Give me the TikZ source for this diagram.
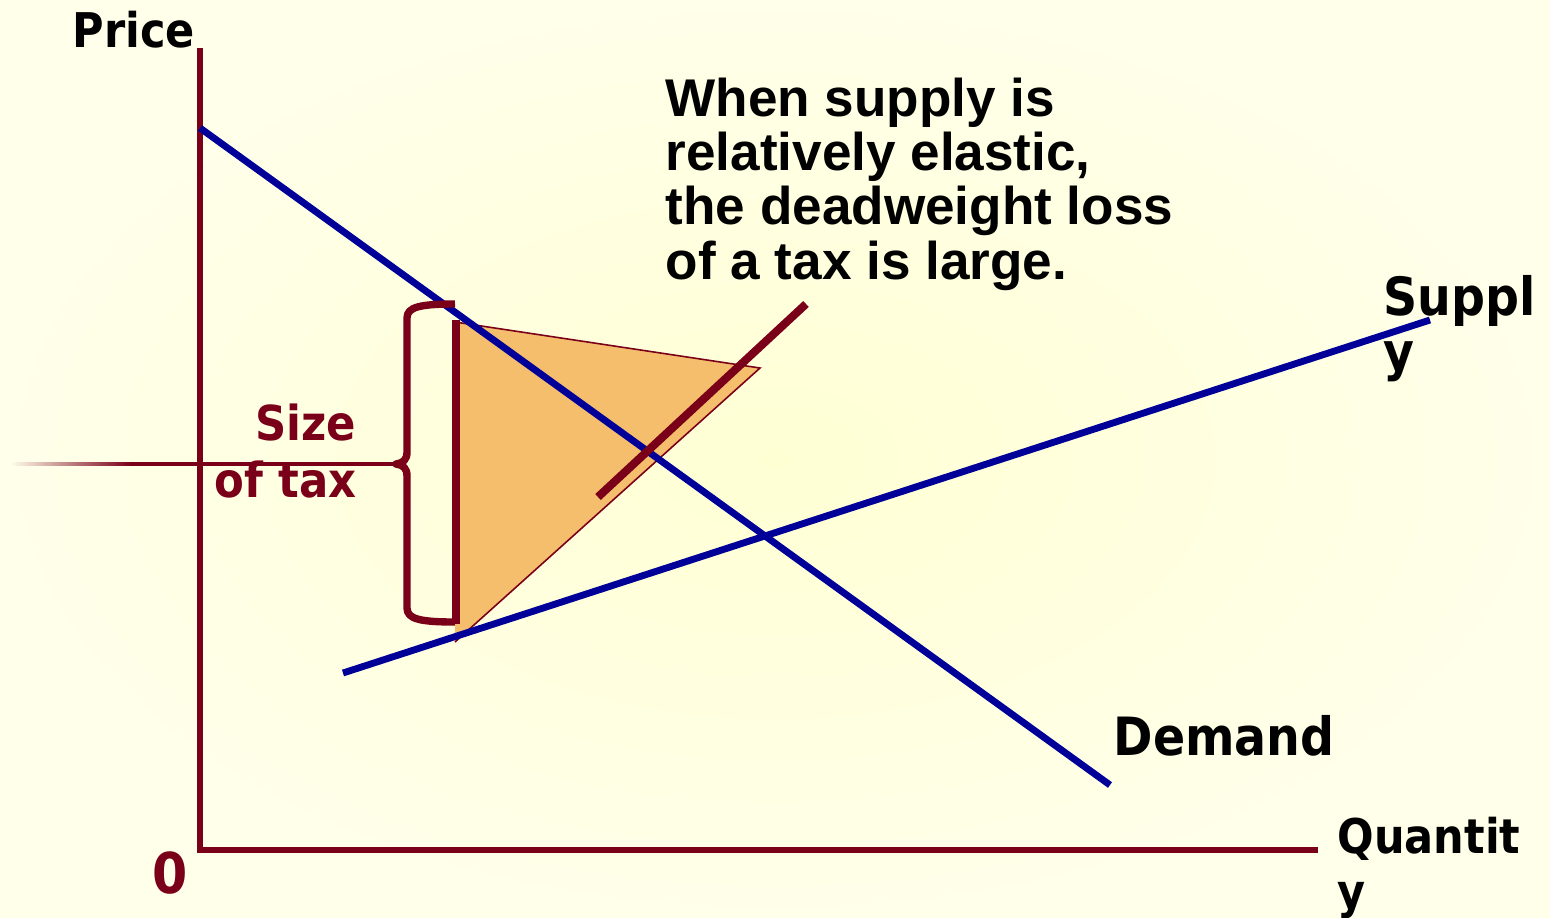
\documentclass[tikz,border=0pt]{standalone}
\usepackage{fontspec}
\setmainfont{Liberation Sans}
\newfontfamily\tahoma{DejaVu Sans Condensed}
\usetikzlibrary{calc}
\definecolor{axisred}{RGB}{122,0,25}
\definecolor{curveblue}{RGB}{0,0,153}
\definecolor{dwlfill}{RGB}{244,190,108}
\definecolor{bgyellow}{RGB}{255,255,212}
\definecolor{bglight}{RGB}{255,255,234}
\tikzset{
  axisln/.style={line width=1.6pt,axisred},
  curve/.style={line width=1.95pt,curveblue},
  taxln/.style={line width=2.3pt,axisred},
  brc/.style={line width=2.1pt,axisred,line join=round},
  dwledge/.style={line width=0.45pt,axisred},
  lbl/.style={font=\tahoma\bfseries\fontsize{13.6}{15.6}\selectfont,inner sep=0pt,align=left,anchor=base west},
  biglbl/.style={lbl,font=\tahoma\bfseries\fontsize{15}{15.6}\selectfont},
  redlbl/.style={lbl,text=axisred},
  note/.style={font=\bfseries\fontsize{15.1}{15.4}\selectfont,inner sep=0pt,align=left,anchor=base west},
}

\begin{document}
\begin{tikzpicture}[x=0.01cm,y=-0.01cm]
  \shade[inner color=bgyellow,outer color=bglight] (0,0) rectangle (1550,917);
  \useasboundingbox (0,0) rectangle (1550,917);
  % axes
  \coordinate (O) at (200,850);
  \coordinate (ytop) at (200,48);
  \coordinate (xend) at (1318,850);
  % deadweight loss
  \coordinate (dwlA) at (455,322);
  \coordinate (dwlB) at (760,368);
  \coordinate (dwlC) at (455,642);
  \fill[dwlfill] (dwlA) -- (dwlB) -- (dwlC) -- cycle;
  \draw[dwledge] (dwlA) -- (dwlB) -- (dwlC);
  \draw[axisln] (ytop) -- (O) -- (xend);
  % demand and supply
  \coordinate (dtop) at (200,128);
  \coordinate (dbot) at (1110,785);
  \coordinate (sbot) at (343,673);
  \coordinate (stop) at (1430,320);
  \draw[curve] (dtop) -- (dbot);
  \draw[curve] (sbot) -- (stop);
  % supply shifted by the tax
  \coordinate (s2bot) at (598,497);
  \coordinate (s2top) at (806,304);
  \draw[taxln] (s2bot) -- (s2top);
  % tax wedge and brace
  \coordinate (wtop) at (456,320);
  \coordinate (wbot) at (456,624);
  \draw[taxln] (wtop) -- (wbot);
  \coordinate (tip) at (396,464);
  \draw[brc] (455,304) .. controls (420,304) and (407,307) .. (407,318) -- (407,452)
    .. controls (407,460) and (403,463) .. (tip)
    .. controls (403,465) and (407,468) .. (407,476) -- (407,608)
    .. controls (407,619) and (420,622) .. (455,622);
  \coordinate (lnsolid) at (130,464);
  \shade[left color=bglight,right color=axisred] (10,462.1) rectangle (131,465.9);
  \draw[line width=1.08pt,axisred] (lnsolid) -- (tip);
  % labels
  \node[lbl] (price) at (72,47) {Price};
  \node[redlbl,anchor=base,font=\tahoma\bfseries\fontsize{16}{16}\selectfont] (zero) at (170,893) {0};
  \node[lbl] (quant) at (1337,908) {Quantit\\y};
  \node[biglbl] (supply) at (1383,370) {Suppl\\y};
  \node[biglbl] (demand) at (1113,755) {Demand};
  \node[redlbl,font=\tahoma\bfseries\fontsize{13.7}{16.2}\selectfont,align=right,anchor=base east] (taxsize) at (357,497) {Size\\of tax};
  \node[note] (msg) at (665,279) {When supply is\\relatively elastic,\\the deadweight loss\\of a tax is large.};
\end{tikzpicture}
\end{document}
